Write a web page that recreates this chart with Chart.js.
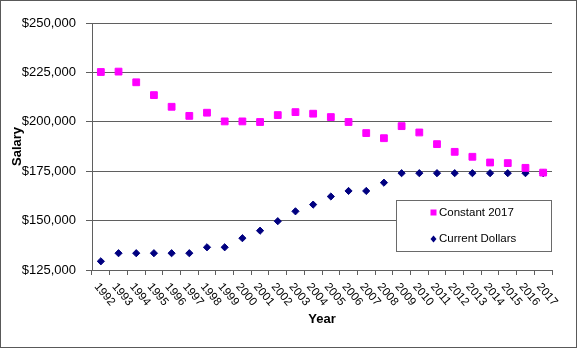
<!DOCTYPE html>
<html>
<head>
<meta charset="utf-8">
<script src="https://cdn.jsdelivr.net/npm/chart.js@4/dist/chart.umd.min.js"></script>
<style>
  html, body { margin: 0; padding: 0; background: #fff; }
  #wrap { width: 577px; height: 348px; position: relative; }
</style>
</head>
<body>
<div id="wrap"><canvas id="salaryChart" width="577" height="348"></canvas></div>
<script>
// data
const years = ['1992', '1993', '1994', '1995', '1996', '1997', '1998', '1999', '2000', '2001', '2002', '2003', '2004',
  '2005', '2006', '2007', '2008', '2009', '2010', '2011', '2012', '2013', '2014', '2015', '2016', '2017'];
const constant2017 = [225200, 225400, 220000, 213500, 207600, 203000, 204600, 200200, 200200, 199900, 203400, 204900, 204100,
  202400, 199900, 194300, 191700, 197800, 194600, 188700, 184800, 182300, 179400, 179100, 176700, 174300];
const currentDollars = [129400, 133500, 133500, 133500, 133500, 133500, 136500, 136500, 141100, 144900, 149700, 154700, 158100,
  162200, 165000, 165000, 169200, 174000, 174000, 174000, 174000, 174000, 174000, 174000, 174000, 174000];
const yTicks = [125000, 150000, 175000, 200000, 225000, 250000];

const FONT = 'Arial, "Liberation Sans", sans-serif';
const lineColor = '#5f5f5f';

// rotated year labels, outer frame and the boxed legend
const extras = {
  id: 'extras',
  afterDraw(chart) {
    const ctx = chart.ctx;
    const xs = chart.scales.x;
    ctx.save();
    ctx.fillStyle = '#000';
    ctx.font = '11.5px ' + FONT;
    ctx.textAlign = 'left';
    ctx.textBaseline = 'top';
    years.forEach((y, i) => {
      const px = xs.getPixelForValue(i);
      ctx.save();
      ctx.translate(px, 281);
      ctx.rotate(50 * Math.PI / 180);
      ctx.fillText(y, 0, 0);
      ctx.restore();
    });

    // legend box
    const bx = 396.5, by = 200.5, bw = 155, bh = 51;
    ctx.fillStyle = '#fff';
    ctx.fillRect(bx, by, bw, bh);
    ctx.strokeStyle = '#6a6a6a';
    ctx.lineWidth = 1;
    ctx.strokeRect(bx, by, bw, bh);

    const ds = chart.data.datasets;
    const mx = 433.5;
    ctx.font = '11.5px ' + FONT;
    ctx.textBaseline = 'middle';
    // square marker
    ctx.fillStyle = ds[0].pointBackgroundColor;
    ctx.fillRect(mx - 3, 212.5 - 3, 6, 6);
    ctx.fillStyle = '#000';
    ctx.fillText(ds[0].label, 439, 213);
    // diamond marker
    ctx.fillStyle = ds[1].pointBackgroundColor;
    ctx.beginPath();
    ctx.moveTo(mx, 239 - 3.5);
    ctx.lineTo(mx + 3, 239);
    ctx.lineTo(mx, 239 + 3.5);
    ctx.lineTo(mx - 3, 239);
    ctx.closePath();
    ctx.fill();
    ctx.fillStyle = '#000';
    ctx.fillText(ds[1].label, 439, 239);

    // outer frame
    ctx.strokeStyle = '#595959';
    ctx.strokeRect(0.5, 0.5, 576, 347);
    ctx.restore();
  }
};

new Chart(document.getElementById('salaryChart').getContext('2d'), {
  type: 'line',
  data: {
    labels: years,
    datasets: [
      {
        label: 'Constant 2017',
        data: constant2017,
        showLine: false,
        pointStyle: 'rect',
        pointRadius: 4.8,
        pointBorderWidth: 1,
        pointBackgroundColor: '#ff00ff',
        pointBorderColor: '#ff00ff'
      },
      {
        label: 'Current Dollars',
        data: currentDollars,
        showLine: false,
        pointStyle: 'rectRot',
        pointRadius: 3.6,
        pointBorderWidth: 1,
        pointBackgroundColor: '#000080',
        pointBorderColor: '#000080'
      }
    ]
  },
  options: {
    responsive: false,
    animation: false,
    events: [],
    layout: { padding: { left: 0, top: 23, right: 25, bottom: 0 } },
    plugins: {
      legend: { display: false },
      tooltip: { enabled: false }
    },
    scales: {
      x: {
        type: 'category',
        offset: true,
        afterFit(scale) { scale.height = 78; },
        grid: { offset: true, drawOnChartArea: false, drawTicks: true, tickLength: 5, color: lineColor },
        border: { color: lineColor },
        ticks: { display: false },
        title: {
          display: true,
          text: 'Year',
          color: '#000',
          font: { family: FONT, size: 13, weight: 'bold' },
          padding: { top: 0, bottom: 21 }
        }
      },
      y: {
        min: 125000,
        max: 250000,
        afterFit(scale) { scale.width = 92; },
        afterBuildTicks(scale) { scale.ticks = yTicks.map(v => ({ value: v })); },
        grid: { color: lineColor, tickLength: 6 },
        border: { color: lineColor },
        ticks: {
          color: '#000',
          padding: 10,
          font: { family: FONT, size: 13 },
          callback: v => '$' + Number(v).toLocaleString('en-US')
        },
        title: {
          display: true,
          text: 'Salary',
          color: '#000',
          font: { family: FONT, size: 13, weight: 'bold' },
          padding: { top: 10, bottom: 0 }
        }
      }
    }
  },
  plugins: [extras]
});
</script>
</body>
</html>
